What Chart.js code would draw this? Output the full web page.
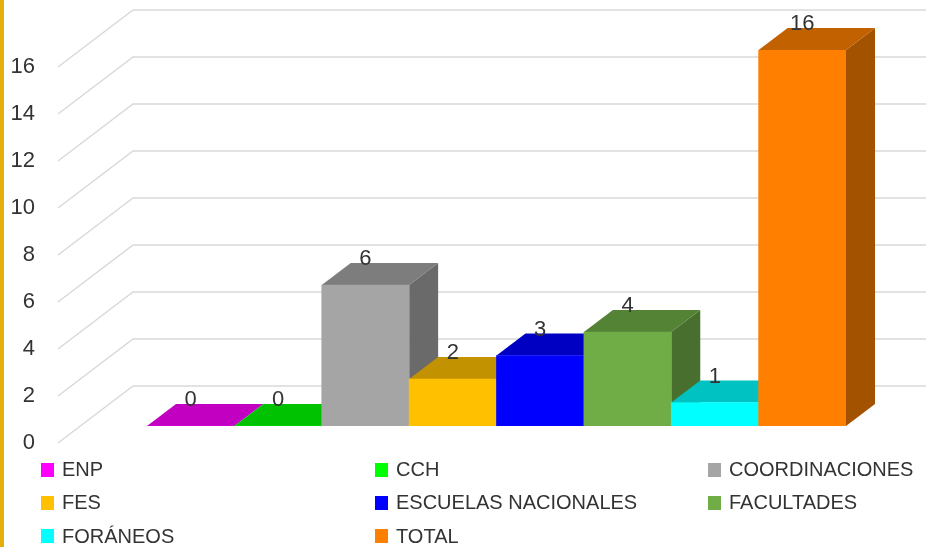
<!DOCTYPE html>
<html>
<head>
<meta charset="utf-8">
<script src="https://cdn.jsdelivr.net/npm/chart.js@4/dist/chart.umd.min.js"></script>
<style>
    html, body { margin: 0; padding: 0; background: #ffffff; }
    #wrap { position: relative; width: 926px; height: 547px; overflow: hidden; }
    #goldBar { position: absolute; left: 0; top: 0; width: 4px; height: 547px; background: #e5ae0a; }
    #resultsChart { position: absolute; left: 0; top: 0; }
    #legend {
        position: absolute; left: 41px; top: 453px;
        display: grid; grid-template-columns: 334px 333px auto; grid-auto-rows: 33.3px;
        font-family: "Liberation Sans", Arial, sans-serif; font-size: 20px; color: #333333;
    }
    .item { display: flex; align-items: center; white-space: nowrap; }
    .swatch { width: 13px; height: 14px; margin-right: 8px; }
</style>
</head>
<body>
<div id="wrap">
    <canvas id="resultsChart" width="926" height="547"></canvas>
    <div id="goldBar"></div>
    <div id="legend"></div>
</div>
<script>
// chart data
const categories = ['ENP', 'CCH', 'COORDINACIONES', 'FES', 'ESCUELAS NACIONALES', 'FACULTADES', 'FORÁNEOS', 'TOTAL'];
const values = [0, 0, 6, 2, 3, 4, 1, 16];
const barColors = ['#ff00ff', '#00ff00', '#a5a5a5', '#ffc000', '#0000ff', '#70ad47', '#00ffff', '#ff8000'];
const yTicks = [0, 2, 4, 6, 8, 10, 12, 14, 16];

// 3d look
const WALL_LEFT = 58;     // front edge of the floor / gridlines
const DEPTH_X = 75;       // full depth of the box, x
const DEPTH_Y = 57;       // full depth of the box, y
const FRONT_DROP = 17;    // bar front sits behind the front edge
const BAR_DX = 29;        // bar depth
const BAR_DY = 22;

function shade(hex, f) {
    const n = parseInt(hex.slice(1), 16);
    const r = Math.round(((n >> 16) & 255) * f);
    const g = Math.round(((n >> 8) & 255) * f);
    const b = Math.round((n & 255) * f);
    return `rgb(${r}, ${g}, ${b})`;
}

function poly(ctx, pts, color) {
    ctx.beginPath();
    ctx.moveTo(pts[0][0], pts[0][1]);
    for (let i = 1; i < pts.length; i++) ctx.lineTo(pts[i][0], pts[i][1]);
    ctx.closePath();
    ctx.fillStyle = color;
    ctx.fill();
}

const box3d = {
    id: 'box3d',
    beforeDatasetsDraw(chart) {
        const ctx = chart.ctx;
        const y = chart.scales.y;

        // perspective gridlines
        ctx.save();
        ctx.strokeStyle = '#d9d9d9';
        ctx.lineWidth = 1.5;
        y.ticks.forEach(t => {
            const yf = y.getPixelForValue(t.value) + FRONT_DROP;
            ctx.beginPath();
            ctx.moveTo(WALL_LEFT, yf);
            ctx.lineTo(WALL_LEFT + DEPTH_X, yf - DEPTH_Y);
            ctx.lineTo(chart.width, yf - DEPTH_Y);
            ctx.stroke();
        });

        // side and top faces, left to right, fronts are drawn by Chart.js afterwards
        const meta = chart.getDatasetMeta(0);
        meta.data.forEach((bar, i) => {
            const { x, y: top, base, width } = bar.getProps(['x', 'y', 'base', 'width'], true);
            const left = x - width / 2;
            const right = x + width / 2;
            const color = barColors[i];
            poly(ctx, [[right, top], [right + BAR_DX, top - BAR_DY], [right + BAR_DX, base - BAR_DY], [right, base]], shade(color, 0.64));
            poly(ctx, [[left, top], [right, top], [right + BAR_DX, top - BAR_DY], [left + BAR_DX, top - BAR_DY]], shade(color, 0.76));
        });
        ctx.restore();
    },
    afterDatasetsDraw(chart) {
        const ctx = chart.ctx;
        const meta = chart.getDatasetMeta(0);
        ctx.save();
        ctx.font = '22px "Liberation Sans", Arial, sans-serif';
        ctx.fillStyle = '#333333';
        ctx.textAlign = 'center';
        ctx.textBaseline = 'middle';
        meta.data.forEach((bar, i) => {
            const { x, y } = bar.getProps(['x', 'y'], true);
            ctx.fillText(String(values[i]), x, y - 26);
        });
        ctx.restore();
    }
};

const chart = new Chart(document.getElementById('resultsChart'), {
    type: 'bar',
    data: {
        labels: categories,
        datasets: [{
            data: values,
            backgroundColor: barColors,
            borderWidth: 0,
            barPercentage: 1,
            categoryPercentage: 1
        }]
    },
    options: {
        responsive: false,
        animation: false,
        layout: {
            padding: { top: 50, bottom: 121, right: 80, left: 0 }
        },
        plugins: {
            legend: { display: false }, // legend is in HTML
            tooltip: { enabled: false }
        },
        scales: {
            x: { display: false },
            y: {
                min: 0,
                max: 16,
                afterBuildTicks: scale => { scale.ticks = yTicks.map(v => ({ value: v })); },
                afterFit: scale => {
                    scale.width = 147;
                    // the big tick padding is only meant sideways
                    scale.paddingTop = 0;
                    scale.paddingBottom = 0;
                },
                grid: { display: false, drawTicks: false },
                border: { display: false },
                ticks: {
                    padding: 112,
                    labelOffset: FRONT_DROP,
                    color: '#333333',
                    font: { family: '"Liberation Sans", Arial, sans-serif', size: 22 }
                }
            }
        }
    },
    plugins: [box3d]
});

// legend
const legendEl = document.getElementById('legend');
categories.forEach((name, i) => {
    const item = document.createElement('div');
    item.className = 'item';
    const sw = document.createElement('span');
    sw.className = 'swatch';
    sw.style.background = barColors[i];
    const label = document.createElement('span');
    label.textContent = name;
    item.appendChild(sw);
    item.appendChild(label);
    legendEl.appendChild(item);
});
</script>
</body>
</html>
